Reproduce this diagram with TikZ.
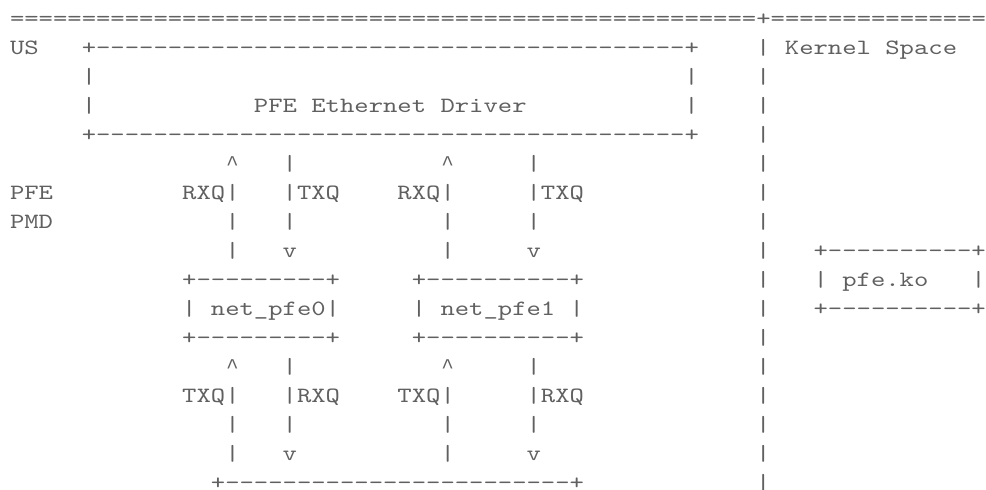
\documentclass[tikz,border=0pt]{standalone}
\usepackage{fontspec}
\newfontfamily\asciifont[FakeStretch=1.254,Ligatures=TeXOff]{lmmono10-regular.otf}
\newfontfamily\caretfont{Liberation Mono}
\definecolor{asciigray}{RGB}{96,96,96}

\begin{document}
\begin{tikzpicture}[x=14.35pt, y=-29pt,
    ascii/.style={inner sep=0pt, outer sep=0pt, anchor=base west, text=asciigray,
      font=\asciifont\fontsize{21.8pt}{21.8pt}\selectfont},
    caret/.style={ascii, anchor=base, font=\caretfont\fontsize{21pt}{21pt}\selectfont}]

    \useasboundingbox (0pt,0pt) rectangle (986pt,-490pt);

    \begin{scope}[shift={(10pt,3.5pt)}]
        % space border
        \node[ascii] (border) at (0,1) {====================================================+===============};
        \foreach \r in {2,...,17}
            \node[ascii] (sep\r) at (52,\r) {|};
        \node[ascii] (kernel) at (54,2) {Kernel Space};

        % user space driver
        \node[ascii] (us) at (0,2) {US};
        \node[ascii] (drvtop) at (5,2) {+-----------------------------------------+};
        \node[ascii] (drvl3) at (5,3) {|};
        \node[ascii] (drvr3) at (47,3) {|};
        \node[ascii] (drvl4) at (5,4) {|};
        \node[ascii] (drv) at (17,4) {PFE Ethernet Driver};
        \node[ascii] (drvr4) at (47,4) {|};
        \node[ascii] (drvbot) at (5,5) {+-----------------------------------------+};

        \node[ascii] (pfe) at (0,7) {PFE};
        \node[ascii] (pmd) at (0,8) {PMD};

        % queues driver <-> net_pfe
        \foreach \a/\b/\n in {15/19/0,30/36/1} {
            \node[caret] (rxup\n) at (\a+0.5,6) {\textasciicircum};
            \node[ascii] (txtop\n) at (\b,6) {|};
            \node[ascii] (rxq\n) at (\a-3,7) {RXQ|};
            \node[ascii] (txq\n) at (\b,7) {|TXQ};
            \node[ascii] (rxmid\n) at (\a,8) {|};
            \node[ascii] (txmid\n) at (\b,8) {|};
            \node[ascii] (rxbot\n) at (\a,9) {|};
            \node[ascii] (txdown\n) at (\b,9) {v};
        }

        % net_pfe boxes
        \node[ascii] (pfe0top) at (12,10) {+---------+};
        \node[ascii] (pfe0) at (12,11) {| net\_pfe0|};
        \node[ascii] (pfe0bot) at (12,12) {+---------+};
        \node[ascii] (pfe1top) at (28,10) {+----------+};
        \node[ascii] (pfe1) at (28,11) {| net\_pfe1 |};
        \node[ascii] (pfe1bot) at (28,12) {+----------+};

        % queues net_pfe <-> hardware
        \foreach \a/\b/\n in {15/19/0,30/36/1} {
            \node[caret] (txup\n) at (\a+0.5,13) {\textasciicircum};
            \node[ascii] (rxtop\n) at (\b,13) {|};
            \node[ascii] (txqlow\n) at (\a-3,14) {TXQ|};
            \node[ascii] (rxqlow\n) at (\b,14) {|RXQ};
            \node[ascii] (txlmid\n) at (\a,15) {|};
            \node[ascii] (rxlmid\n) at (\b,15) {|};
            \node[ascii] (txlbot\n) at (\a,16) {|};
            \node[ascii] (rxdown\n) at (\b,16) {v};
        }
        \node[ascii] (hwtop) at (14,17) {+------------------------+};

        % kernel module
        \node[ascii] (kotop) at (56,9) {+----------+};
        \node[ascii] (kol) at (56,10) {|};
        \node[ascii] (ko) at (58,10) {pfe.ko};
        \node[ascii] (kor) at (67,10) {|};
        \node[ascii] (kobot) at (56,11) {+----------+};
    \end{scope}

\end{tikzpicture}
\end{document}
